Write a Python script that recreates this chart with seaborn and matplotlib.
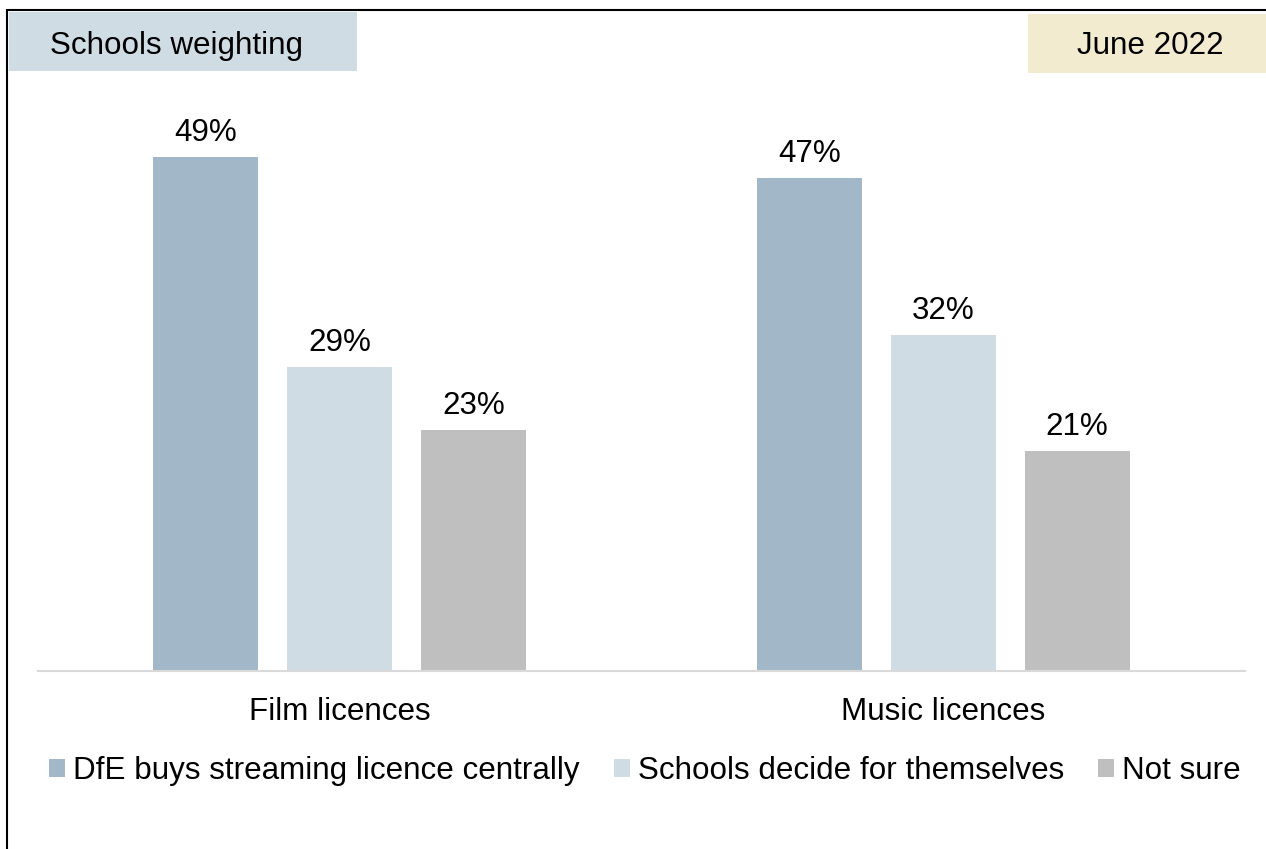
import matplotlib
matplotlib.use("Agg")
import matplotlib.pyplot as plt
from matplotlib.patches import Rectangle
from matplotlib.lines import Line2D
import pandas as pd
import seaborn as sns

# Survey results (percent of schools)
categories = ["Film licences", "Music licences"]
options = ["DfE buys streaming licence centrally", "Schools decide for themselves", "Not sure"]
dfe_central = [49, 47]
schools_decide = [29, 32]
not_sure = [23, 21]

colors = ["#A2B8C8", "#D0DCE4", "#BFBFBF"]

rows = []
for opt, vals in zip(options, [dfe_central, schools_decide, not_sure]):
    for cat, v in zip(categories, vals):
        rows.append({"category": cat, "option": opt, "value": v})
df = pd.DataFrame(rows)

sns.set_theme(style="white")
plt.rcParams["font.family"] = ["Liberation Sans", "DejaVu Sans"]
plt.rcParams["text.color"] = "#000000"

W, H = 1266, 849
fig = plt.figure(figsize=(W / 100, H / 100), dpi=100)
FS = 22.6


def fx(px):
    return px / W


def fy(py):
    return 1 - py / H


ax_left, ax_right, ax_bottom, ax_top = 38, 1245, 671, 90
ax = fig.add_axes([fx(ax_left), fy(ax_bottom), fx(ax_right - ax_left), (ax_bottom - ax_top) / H])
ax.set_facecolor("none")

sns.barplot(
    data=df, x="category", y="value", hue="option",
    order=categories, hue_order=options, palette=colors,
    saturation=1, errorbar=None, width=0.666, gap=0.216,
    linewidth=0, ax=ax,
)

for cont in ax.containers:
    ax.bar_label(cont, labels=[f"{v:.0f}%" for v in cont.datavalues],
                 padding=6.5, fontsize=FS, color="#000000")

ax.set_xlim(-0.5, 1.5)
ax.set_ylim(0, 55.4)
ax.set_xlabel("")
ax.set_ylabel("")
ax.set_yticks([])
ax.tick_params(axis="x", length=0, pad=19, labelsize=FS, labelcolor="#000000")
for side in ["top", "left", "right"]:
    ax.spines[side].set_visible(False)
ax.spines["bottom"].set_color("#D9D9D9")
ax.spines["bottom"].set_linewidth(1.5)

handles, labels = ax.get_legend_handles_labels()
ax.get_legend().remove()
fig.legend(
    handles, labels, loc="center", bbox_to_anchor=(fx(645), fy(771)),
    ncol=3, frameon=False, fontsize=FS, labelcolor="#000000",
    handlelength=0.5, handleheight=0.5, handletextpad=0.25,
    columnspacing=1.1, borderaxespad=0, borderpad=0,
)

# Header tags
fig.add_artist(Rectangle((fx(9), fy(71)), fx(357 - 9), (71 - 12) / H,
                         transform=fig.transFigure, facecolor="#D0DCE4",
                         edgecolor="none", zorder=1))
fig.text(fx(50), fy(46), "Schools weighting", fontsize=FS, va="center", ha="left", color="#000000")
fig.add_artist(Rectangle((fx(1028), fy(73)), fx(W - 1028), (73 - 14) / H,
                         transform=fig.transFigure, facecolor="#F2EBCF",
                         edgecolor="none", zorder=1))
fig.text(fx(1150), fy(46), "June 2022", fontsize=FS, va="center", ha="center", color="#000000")

# Frame lines along top and left edge
fig.add_artist(Line2D([fx(7), 1], [fy(10), fy(10)], transform=fig.transFigure,
                      color="#000000", linewidth=1.5))
fig.add_artist(Line2D([fx(7), fx(7)], [fy(10), 0], transform=fig.transFigure,
                      color="#000000", linewidth=1.5))

fig.savefig("out.png", dpi=100, facecolor="white")
